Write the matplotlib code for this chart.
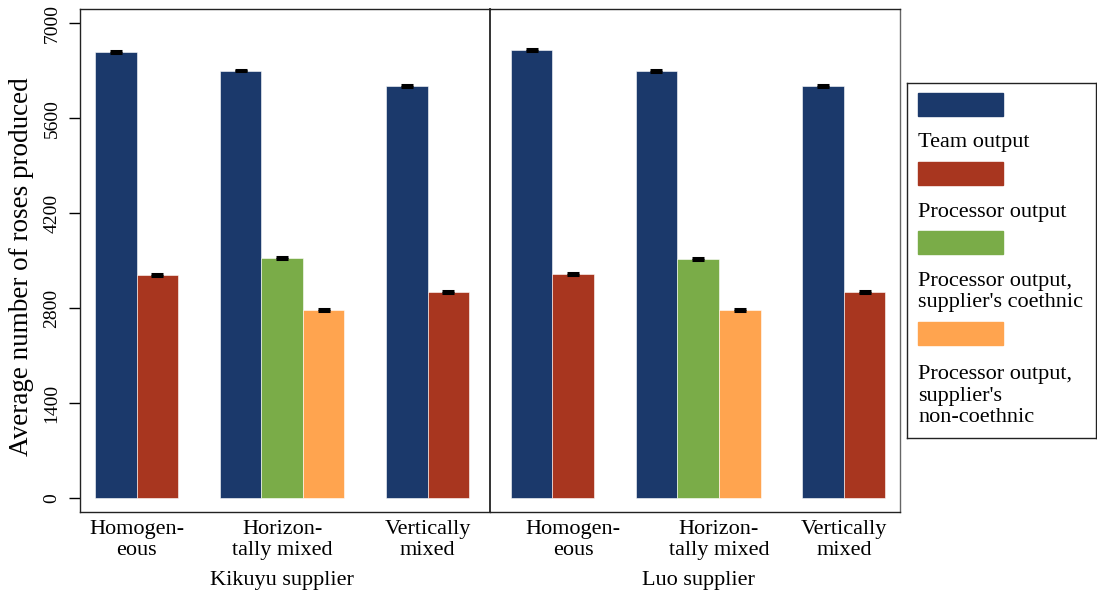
import matplotlib
matplotlib.use("Agg")
import matplotlib.pyplot as plt
import matplotlib.transforms as mtransforms
from matplotlib.patches import Rectangle

plt.rcParams['font.family'] = ['Liberation Serif', 'DejaVu Serif']

groups = ["Homogen-\neous", "Horizon-\ntally mixed", "Vertically\nmixed"]
suppliers = ["Kikuyu supplier", "Luo supplier"]
series_names = ["Team output", "Processor output",
                "Processor output,\nsupplier's coethnic",
                "Processor output,\nsupplier's\nnon-coethnic"]
colors = ['#1b396b', '#a8361f', '#7aac48', '#ffa44f']

kikuyu_team = [6581, 6302, 6076]
kikuyu_proc = [3291, None, 3036]
kikuyu_coeth = [None, 3537, None]
kikuyu_noncoeth = [None, 2775, None]

luo_team = [6607, 6293, 6076]
luo_proc = [3306, None, 3036]
luo_coeth = [None, 3527, None]
luo_noncoeth = [None, 2771, None]

std_err = 12
yticks = [0, 1400, 2800, 4200, 5600, 7000]

panels = [
    [kikuyu_team, kikuyu_proc, kikuyu_coeth, kikuyu_noncoeth],
    [luo_team, luo_proc, luo_coeth, luo_noncoeth],
]

W, H = 1097, 592
fig = plt.figure(figsize=(W / 100, H / 100), dpi=100)


def frac(x0, y0, x1, y1):
    # pixel box (top-left origin) -> figure fraction rect
    return [x0 / W, (H - y1) / H, (x1 - x0) / W, (y1 - y0) / H]


group_start = [0, 3, 7]
label_pos = [[1.0, 4.5, 8.0], [1.5, 5.0, 8.0]]
xlims = [(-0.36, 9.5), (-0.5, 9.35)]
boxes = [(80, 9, 490, 512), (490, 9, 900, 512)]

axes = []
for p, data in enumerate(panels):
    ax = fig.add_axes(frac(*boxes[p]))
    ax.set_facecolor('none')
    axes.append(ax)
    for g in range(len(groups)):
        k = 0
        for s, series in enumerate(data):
            v = series[g]
            if v is None:
                continue
            x = group_start[g] + k + 0.5
            ax.bar(x, v, width=1.0, color=colors[s], edgecolor='white',
                   linewidth=0.4)
            ax.errorbar(x, v, yerr=std_err, fmt='none', ecolor='black',
                        elinewidth=2, capsize=4, capthick=2.2)
            k += 1
    ax.set_xlim(*xlims[p])
    ax.set_ylim(-206, 7211)
    ax.set_xticks(label_pos[p])
    ax.set_xticklabels(groups, fontsize=16)
    for t in ax.get_xticklabels():
        t.set_linespacing(1.15)
    ax.tick_params(axis='x', length=0, pad=6)
    for sp in ax.spines.values():
        sp.set_color('#222222')
        sp.set_linewidth(1.0)
    trans = mtransforms.blended_transform_factory(ax.transData, ax.transAxes)
    ax.text(4.5, -0.137, suppliers[p], transform=trans, ha='center',
            va='center', fontsize=16)
    if p == 0:
        ax.set_yticks(yticks)
        ax.set_yticklabels([str(v) for v in yticks], rotation=90,
                           va='center', fontsize=14)
        ax.tick_params(axis='y', length=8, width=1, pad=6)
        ax.set_ylabel("Average number of roses produced", fontsize=19.5)
        ax.yaxis.set_label_coords(-0.113, 0.487)
        ax.spines['right'].set_linewidth(1.3)
    else:
        ax.set_yticks([])
        ax.spines['left'].set_visible(False)
        ax.spines['right'].set_color('#666666')

# legend drawn in its own pixel-unit axes (Stata stacked style)
lg = fig.add_axes(frac(907, 83, 1096, 438))
lg.set_xlim(0, 189)
lg.set_ylim(355, 0)
lg.set_xticks([])
lg.set_yticks([])
for sp in lg.spines.values():
    sp.set_color('#222222')
    sp.set_linewidth(1.0)
patch_top = [10, 79, 148, 239]
text_mid = [60, 129, 209, 313]
for i, name in enumerate(series_names):
    lg.add_patch(Rectangle((11, patch_top[i]), 85, 23.3, color=colors[i]))
    lg.text(11, text_mid[i], name, ha='left', va='center', fontsize=16,
            linespacing=1.2)

fig.savefig("out.png", dpi=100)
